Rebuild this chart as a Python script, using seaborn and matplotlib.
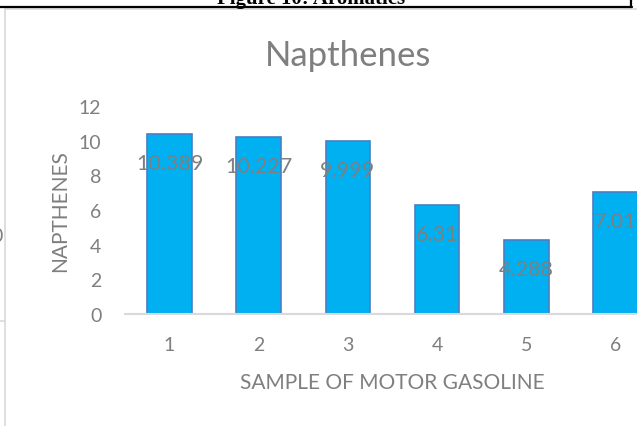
import matplotlib
matplotlib.use("Agg")
import matplotlib.pyplot as plt
from matplotlib.lines import Line2D
import seaborn as sns
import pandas as pd

# Naphthene content per motor gasoline sample
samples = ["1", "2", "3", "4", "5", "6"]
napthenes = [10.389, 10.227, 9.999, 6.31, 4.288, 7.01]
y_ticks = [0, 2, 4, 6, 8, 10, 12]

title = "Napthenes"
x_label = "SAMPLE OF MOTOR GASOLINE"
y_label = "NAPTHENES"
caption = "Figure 10: Aromatics"

sns.set_theme(style="white")
plt.rcParams["font.family"] = ["Lato", "DejaVu Sans"]

W, H = 637, 427
fig = plt.figure(figsize=(W / 100, H / 100), dpi=100)

def px(x, y):
    return x / W, 1 - y / H

# plot area spans x 125..660 px, y 107..315 px
ax = fig.add_axes([125 / W, (H - 315) / H, (660 - 125) / W, (315 - 107) / H])

df = pd.DataFrame({"sample": samples, "value": napthenes})
sns.barplot(data=df, x="sample", y="value", ax=ax, color="#00B0F0",
            edgecolor="#4A7EC2", linewidth=1.2, width=0.5, saturation=1)

text_gray = "#7F7F7F"
ax.set_ylim(0, 12)
ax.set_xlim(-0.5, 5.5)
ax.set_yticks(y_ticks)
ax.set_yticklabels([str(t) for t in y_ticks])
ax.tick_params(axis="both", length=0, labelsize=14, colors=text_gray)
ax.tick_params(axis="y", pad=17)
ax.tick_params(axis="x", pad=16)
ax.set_xlabel("")
ax.set_ylabel("")
for side in ["left", "right", "top"]:
    ax.spines[side].set_visible(False)
ax.spines["bottom"].set_color("#D9D9D9")
ax.spines["bottom"].set_linewidth(1.5)
ax.grid(False)

for i, v in enumerate(napthenes):
    ax.annotate(f"{v:g}", xy=(i, v), xytext=(0, -29), textcoords="offset pixels",
                ha="center", va="center", fontsize=15.5, color=text_gray)

fig.text(*px(348, 56), title, ha="center", va="center", fontsize=25, color=text_gray)
fig.text(*px(392, 383), x_label, ha="center", va="center", fontsize=15, color=text_gray)
fig.text(*px(60, 211), y_label, ha="center", va="center", rotation=90, fontsize=15,
         color=text_gray)

# surrounding page frame
frame_gray = "#D9D9D9"
fig.add_artist(Line2D([5 / W, 1], [1 - 10 / H] * 2, color=frame_gray, lw=1.2,
                      transform=fig.transFigure))
fig.add_artist(Line2D([5 / W] * 2, [0, 1 - 10 / H], color=frame_gray, lw=1.2,
                      transform=fig.transFigure))
fig.add_artist(Line2D([0, 5 / W], [1 - 322 / H] * 2, color=frame_gray, lw=1.2,
                      transform=fig.transFigure))
fig.add_artist(Line2D([0, 632 / W], [1 - 8 / H] * 2, color="black", lw=1.6,
                      transform=fig.transFigure))
fig.add_artist(Line2D([631 / W] * 2, [1 - 8 / H, 1], color="black", lw=1.6,
                      transform=fig.transFigure))
fig.text(*px(311, 4), caption, ha="center", va="baseline", fontsize=15,
         fontweight="bold", family=["Liberation Serif", "DejaVu Serif"], color="black")
fig.text(*px(-9, 237), "0", ha="left", va="center", fontsize=14, color=text_gray)

fig.savefig("out.png", dpi=100)
